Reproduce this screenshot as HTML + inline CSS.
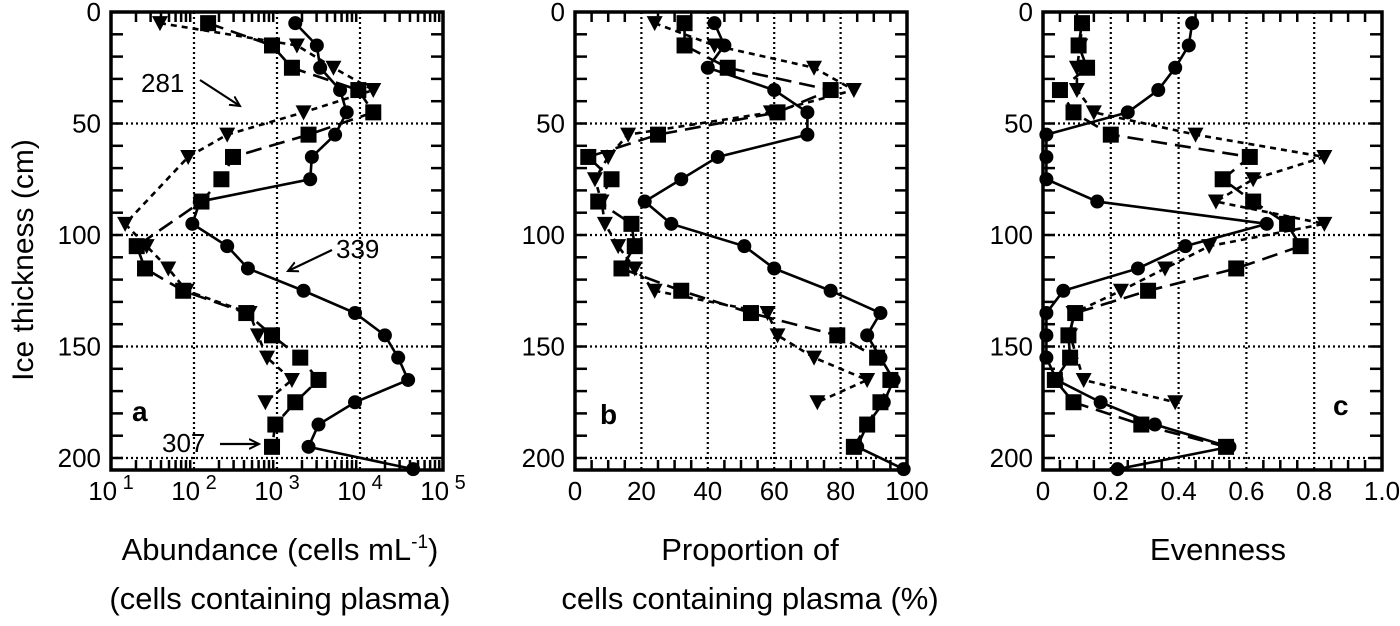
<!DOCTYPE html>
<html><head><meta charset="utf-8"><style>
html,body{margin:0;padding:0;background:#fff}
svg{display:block;font-family:"Liberation Sans",sans-serif}
</style></head><body>
<svg id="c" width="1400" height="626" viewBox="0 0 1400 626"></svg>
<script>
const depths=[5,15,25,35,45,55,65,75,85,95,105,115,125,135,145,155,165,175,185,195,205];
// panel a (log10 abundance)
const aCirc=[3.22,3.48,3.52,3.76,3.84,3.70,3.42,3.40,2.07,1.98,2.40,2.65,3.32,3.94,4.30,4.46,4.58,3.94,3.50,3.38,4.64];
const aSq=[2.17,2.94,3.18,3.98,4.16,3.38,2.47,2.33,2.09,null,1.31,1.41,1.87,2.63,2.94,3.28,3.50,3.22,2.98,2.94];
const aTri=[1.59,3.24,3.68,4.16,3.32,2.40,1.93,null,null,1.17,1.43,1.69,1.91,2.67,2.77,2.88,3.18,2.86];
// panel b (%)
const bCirc=[42,45,40,60,70,70,43,32,21,29,51,60,77,92,88,92,96,93,88,85,99];
const bSq=[33,33,46,77,61,25,4,11,7,17,18,14,32,53,79,91,95,92,88,84];
const bTri=[24,42,72,84,59,16,10,6,8,9,13,18,24,58,61,72,88,73];
// panel c (evenness)
const cCirc=[0.44,0.43,0.39,0.34,0.25,0.01,0.01,0.01,0.16,0.66,0.42,0.28,0.06,0.01,0.01,0.01,0.04,0.17,0.33,0.55,0.22];
const cSq=[0.115,0.105,0.13,0.05,0.09,0.20,0.61,0.53,0.62,0.72,0.76,0.57,0.31,0.095,0.075,0.08,0.035,0.09,0.29,0.54];
const cTri=[0.115,0.11,0.10,0.10,0.15,0.45,0.83,0.62,0.51,0.83,0.49,0.36,0.23,0.09,0.08,null,0.12,0.39];
const yTicks=[0,50,100,150,200];

const svg=document.getElementById('c');const NS='http://www.w3.org/2000/svg';
function mk(t,a,p){const e=document.createElementNS(NS,t);for(const k in a)e.setAttribute(k,a[k]);(p||svg).appendChild(e);return e;}
const Y0=12,PXC=2.23,YB=470;
const yS=d=>Y0+d*PXC;

function panel(name,L,R,xmin,xmax,xticks,xlabels,minor,series){
  const g=mk('g',{});
  
  
  const xS=v=>L+(v-xmin)/(xmax-xmin)*(R-L);
  xticks.slice(1,-1).forEach(v=>{const l=mk('line',{x1:xS(v),x2:xS(v),y1:Y0,y2:YB,stroke:'#000','stroke-width':2.2,'stroke-dasharray':'2,3'},g);});
  [50,100,150,200].forEach(d=>{const l=mk('line',{x1:L,x2:R,y1:yS(d),y2:yS(d),stroke:'#000','stroke-width':2.2,'stroke-dasharray':'2,3'},g);});
  for(let d=10;d<=200;d+=10){mk('line',{x1:L,x2:L+12,y1:yS(d),y2:yS(d),stroke:'#000','stroke-width':2.5},g);mk('line',{x1:R-12,x2:R,y1:yS(d),y2:yS(d),stroke:'#000','stroke-width':2.5},g);}
  minor.forEach(v=>{mk('line',{x1:xS(v),x2:xS(v),y1:Y0,y2:Y0+10,stroke:'#000','stroke-width':2.5},g);mk('line',{x1:xS(v),x2:xS(v),y1:YB-10,y2:YB,stroke:'#000','stroke-width':2.5},g);});
  series.forEach(s=>{
    let pts=[];s.vals.forEach((v,i)=>{if(v!=null)pts.push([xS(v),yS(depths[i])]);});
    const pl=mk('polyline',{points:pts.map(p=>p.join(',')).join(' '),fill:'none',stroke:'#000','stroke-width':2.6,'stroke-dasharray':s.dash},g);
    
    pts.forEach(p=>{let m;
      if(s.id==='circle')m=mk('circle',{cx:p[0],cy:p[1],r:7,fill:'#000'},g);
      else if(s.id==='square')m=mk('rect',{x:p[0]-8,y:p[1]-8,width:16,height:16,fill:'#000'},g);
      else m=mk('polygon',{points:`${p[0]-8},${p[1]-7} ${p[0]+8},${p[1]-7} ${p[0]},${p[1]+8}`,fill:'#000'},g);
      });
  });
  const fr=mk('rect',{x:L,y:Y0,width:R-L,height:YB-Y0,fill:'none',stroke:'#000','stroke-width':3.5},g);
  
  yTicks.forEach(d=>{const t=mk('text',{x:L-10,y:yS(d)+9,'text-anchor':'end','font-size':26},g);t.textContent=d;});
  xticks.forEach((v,i)=>{const t=mk('text',{x:xS(v),y:500,'text-anchor':'middle','font-size':26},g);t.innerHTML=xlabels[i];});
}
const sty=(c,s,t)=>[{id:'circle',vals:c,dash:'none'},{id:'square',vals:s,dash:'16,8'},{id:'triangle',vals:t,dash:'6,5'}];
let minA=[];for(let d=1;d<5;d++)for(let k=2;k<10;k++)minA.push(d+Math.log10(k));
const sup=n=>'10<tspan dy="-11" font-size="20"> '+n+'</tspan>';
panel('a',111,443,1,5,[1,2,3,4,5],[sup(1),sup(2),sup(3),sup(4),sup(5)],minA,sty(aCirc,aSq,aTri));
let minB=[];for(let v=5;v<100;v+=5)if(v%20)minB.push(v);
panel('b',575,907,0,100,[0,20,40,60,80,100],['0','20','40','60','80','100'],minB,sty(bCirc,bSq,bTri));
let minC=[];for(let v=0.05;v<1;v+=0.05)if(Math.round(v*100)%20)minC.push(v);
panel('c',1043,1382,0,1,[0,0.2,0.4,0.6,0.8,1.0],['0','0.2','0.4','0.6','0.8','1.0'],minC,sty(cCirc,cSq,cTri));
</script>
<svg width="1400" height="626" style="position:absolute;left:0;top:0">
<defs><marker id="ar" markerWidth="12" markerHeight="12" refX="10" refY="6" orient="auto" markerUnits="userSpaceOnUse"><path d="M0,1 L10,6 L0,11" fill="none" stroke="#000" stroke-width="2"/></marker></defs>
<text transform="translate(33 260) rotate(-90)" font-size="30" text-anchor="middle">Ice thickness (cm)</text>
<text x="280" y="560" font-size="31" text-anchor="middle">Abundance (cells mL<tspan dy="-12" font-size="19">-1</tspan><tspan dy="12">)</tspan></text>
<text x="280" y="609" font-size="31" text-anchor="middle">(cells containing plasma)</text>
<text x="750" y="560" font-size="31" text-anchor="middle">Proportion of</text>
<text x="750" y="609" font-size="31" text-anchor="middle">cells containing plasma (%)</text>
<text x="1218" y="560" font-size="31" text-anchor="middle">Evenness</text>
<text x="141" y="92" font-size="26">281</text>
<line x1="200" y1="80" x2="240" y2="106" stroke="#000" stroke-width="2.2" marker-end="url(#ar)"/>
<text x="336" y="258" font-size="26">339</text>
<line x1="332" y1="250" x2="288" y2="271" stroke="#000" stroke-width="2.2" marker-end="url(#ar)"/>
<text x="162" y="452" font-size="26">307</text>
<line x1="220" y1="444" x2="259" y2="444" stroke="#000" stroke-width="2.2" marker-end="url(#ar)"/>
<text x="132" y="421" font-size="28" font-weight="bold">a</text>
<text x="600" y="424" font-size="28" font-weight="bold">b</text>
<text x="1333" y="415" font-size="28" font-weight="bold">c</text>
</svg>
</body></html>
